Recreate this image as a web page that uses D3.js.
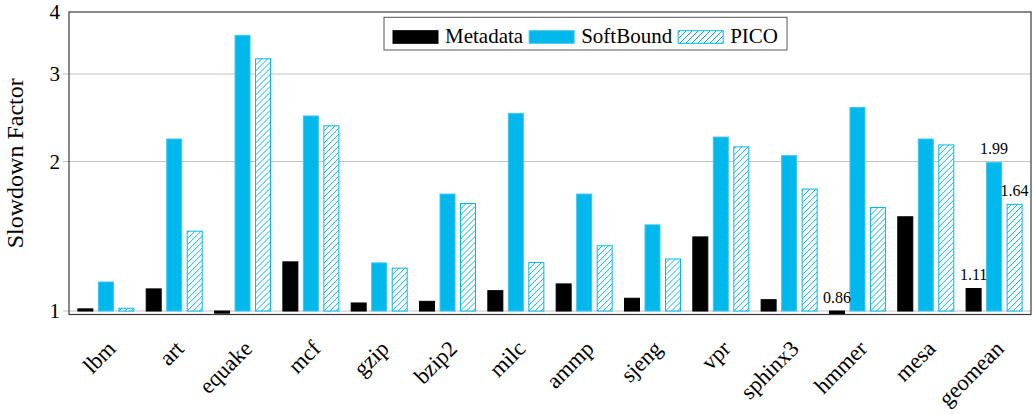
<!DOCTYPE html>
<html>
<head>
<meta charset="utf-8">
<script src="https://cdn.jsdelivr.net/npm/d3@7"></script>
<style>
  html, body { margin: 0; padding: 0; background: #fff; }
  svg { display: block; font-family: "Liberation Serif", "Times New Roman", serif; }
</style>
</head>
<body>
<svg id="chart" width="1033" height="414"></svg>
<script>
// Benchmarks on the x axis
const categories = ["lbm", "art", "equake", "mcf", "gzip", "bzip2", "milc", "ammp",
                    "sjeng", "vpr", "sphinx3", "hmmer", "mesa", "geomean"];
const seriesNames = ["Metadata", "SoftBound", "PICO"];

// Slowdown factor per benchmark
const metadata  = [1.01, 1.108, 0.99, 1.256, 1.038, 1.046, 1.099, 1.134, 1.061, 1.41, 1.054, 0.86, 1.548, 1.11];
const softbound = [1.144, 2.22, 3.59, 2.47, 1.25, 1.72, 2.50, 1.72, 1.491, 2.24, 2.055, 2.57, 2.22, 1.99];
const pico      = [1.013, 1.448, 3.22, 2.36, 1.22, 1.646, 1.252, 1.353, 1.273, 2.14, 1.76, 1.616, 2.16, 1.64];

const yTicks = [1, 2, 3, 4];
const yMin = 0.984, yMax = 4;

// Bars that carry their value as a label
const labelled = [
  { category: "hmmer",   series: "Metadata" },
  { category: "geomean", series: "Metadata" },
  { category: "geomean", series: "SoftBound" },
  { category: "geomean", series: "PICO" }
];

const seriesValues = { "Metadata": metadata, "SoftBound": softbound, "PICO": pico };
const data = categories.map((c, i) => ({
  category: c,
  values: seriesNames.map(s => ({ series: s, value: seriesValues[s][i] }))
}));

const CYAN = "#00b8eb";
const plotL = 69, plotR = 1031, plotT = 12, plotB = 314.5;

const svg = d3.select("#chart");
const defs = svg.append("defs");

// Diagonal hatch used by the PICO bars
const pat = defs.append("pattern")
  .attr("id", "hatch").attr("patternUnits", "userSpaceOnUse")
  .attr("width", 6).attr("height", 6);
pat.append("rect").attr("width", 6).attr("height", 6).attr("fill", "#fff");
pat.append("path")
  .attr("d", "M0,6 L6,0 M-1.5,1.5 L1.5,-1.5 M4.5,7.5 L7.5,4.5")
  .attr("stroke", CYAN).attr("stroke-width", 1);

defs.append("clipPath").attr("id", "plotClip")
  .append("rect").attr("x", plotL).attr("y", plotT)
  .attr("width", plotR - plotL).attr("height", plotB - plotT);

const x = d3.scalePoint().domain(categories).range([plotL, plotR]).padding(0.54);
const xs = d3.scaleBand().domain(seriesNames).range([-28.5, 28.5]).paddingInner(0.22);
const y = d3.scaleLog().domain([yMin, yMax]).range([plotB, plotT]);

// Grid lines with small outside ticks
svg.append("g").selectAll("line").data(yTicks.filter(t => t < yMax)).join("line")
  .attr("x1", plotL - 6).attr("x2", plotR)
  .attr("y1", d => y(d)).attr("y2", d => y(d))
  .attr("stroke", "#c4c4c4").attr("stroke-width", 1);

// Bars
const fillFor = s => s === "Metadata" ? "#000" : s === "SoftBound" ? CYAN : "url(#hatch)";
const strokeFor = s => s === "Metadata" ? "#000" : s === "SoftBound" ? "#3cc6ef" : CYAN;

const groups = svg.append("g").attr("clip-path", "url(#plotClip)")
  .selectAll("g").data(data).join("g")
  .attr("transform", d => `translate(${x(d.category)},0)`);

groups.selectAll("rect").data(d => d.values).join("rect")
  .attr("x", d => xs(d.series) + 0.5)
  .attr("width", xs.bandwidth() - 1)
  .attr("y", d => Math.min(y(d.value), y(1)))
  .attr("height", d => Math.max(1, Math.abs(y(d.value) - y(1))))
  .attr("fill", d => fillFor(d.series))
  .attr("stroke", d => strokeFor(d.series))
  .attr("stroke-width", 1);

// Value labels
svg.append("g").selectAll("text").data(labelled).join("text")
  .attr("x", d => x(d.category) + xs(d.series) + xs.bandwidth() / 2)
  .attr("y", d => {
    const v = seriesValues[d.series][categories.indexOf(d.category)];
    return Math.min(y(v), y(1)) - 8.5;
  })
  .attr("text-anchor", "middle")
  .attr("font-size", 16)
  .text(d => d3.format(".2f")(seriesValues[d.series][categories.indexOf(d.category)]));

// Frame
svg.append("rect")
  .attr("x", plotL).attr("y", plotT)
  .attr("width", plotR - plotL).attr("height", plotB - plotT)
  .attr("fill", "none").attr("stroke", "#3a3a3a").attr("stroke-width", 1.2);

// Y tick labels
svg.append("g").selectAll("text").data(yTicks).join("text")
  .attr("x", 60).attr("y", d => y(d))
  .attr("dy", "0.35em")
  .attr("text-anchor", "end")
  .attr("font-size", 21)
  .text(d => d);

// Y axis title
svg.append("text")
  .attr("transform", `translate(23,${(plotT + plotB) / 2}) rotate(-90)`)
  .attr("text-anchor", "middle")
  .attr("font-size", 24)
  .text("Slowdown Factor");

// X tick labels, rotated
svg.append("g").selectAll("text").data(categories).join("text")
  .attr("transform", d => `translate(${x(d) + 11},${350}) rotate(-45)`)
  .attr("text-anchor", "end")
  .attr("font-size", 22.5)
  .text(d => d);

// Legend
const legend = svg.append("g");
const box = legend.append("rect").attr("fill", "#fff").attr("stroke", "#555").attr("stroke-width", 1);
let cx = 0;
const items = [];
seriesNames.forEach(s => {
  const sw = legend.append("rect")
    .attr("x", cx).attr("y", 30.7).attr("width", 45).attr("height", 12.6)
    .attr("fill", fillFor(s)).attr("stroke", strokeFor(s)).attr("stroke-width", 1);
  cx += 52;
  const t = legend.append("text").attr("x", cx).attr("y", 43.3)
    .attr("font-size", 21).text(s);
  cx += t.node().getComputedTextLength() + 6;
  items.push(sw, t);
});
const contentW = cx - 6;
const boxL = 384, boxR = 787;
const offset = boxL + 10 + ((boxR - boxL - 20) - contentW) / 2;
box.attr("x", boxL).attr("y", 17.3).attr("width", boxR - boxL).attr("height", 32.7);
items.forEach(el => el.attr("transform", `translate(${offset},0)`));
</script>
</body>
</html>
